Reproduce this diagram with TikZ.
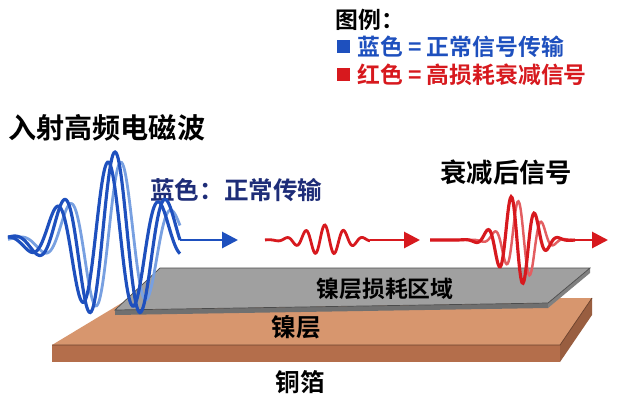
\documentclass[tikz,border=0pt]{standalone}
\usepackage{fontspec}
\newfontfamily\cjk{Noto Sans CJK SC}[BoldFont={Noto Sans CJK SC Bold}]
\usetikzlibrary{arrows.meta}
\definecolor{wblue}{RGB}{30,80,190}
\definecolor{lblue}{RGB}{120,160,225}
\definecolor{wred}{RGB}{215,25,30}
\definecolor{navy}{RGB}{30,45,120}
\definecolor{cutop}{RGB}{215,150,110}
\definecolor{cufront}{RGB}{180,110,75}
\definecolor{nitop}{RGB}{160,160,160}
\tikzset{lbl/.style={font=\cjk\bfseries, inner sep=0pt},
 warr/.style={line width=1.6pt,-{Triangle[length=9pt,width=9pt]}}}
\begin{document}
\begin{tikzpicture}[x=0.02cm,y=-0.02cm]
\useasboundingbox (0,0) rectangle (618,409);
\fill[white] (0,0) rectangle (618,409);
% copper
\fill[cutop] (52,345) -- (560,345) -- (592,298) -- (130,298) -- cycle;
\fill[cufront] (52,345) rectangle (560,362);
\fill[cufront!85!black] (560,345) -- (592,298) -- (592,315) -- (560,362) -- cycle;
\draw[cufront!60!black,thin] (52,345) -- (560,345) -- (592,298);
% nickel
\fill[nitop!70!black] (115,310) -- (548,303) -- (548,308) -- (115,315) -- cycle;
\fill[nitop!80!black] (548,303) -- (590,268) -- (590,273) -- (548,308) -- cycle;
\fill[nitop] (115,310) -- (548,303) -- (590,268) -- (160,268) -- cycle;
\draw[gray!60!black,thin] (115,310) -- (548,303) -- (590,268) -- (160,268) -- cycle;
\node[lbl,font=\cjk\bfseries\fontsize{13}{15}\selectfont] (nilossl) at (385,289) {镍层损耗区域};
\node[lbl,font=\cjk\bfseries\fontsize{14}{16}\selectfont] (nil) at (296,327) {镍层};
\node[lbl,font=\cjk\bfseries\fontsize{14}{16}\selectfont] (cul) at (300,382) {铜箔};
% legend
\node[lbl,anchor=west,font=\cjk\bfseries\fontsize{13}{15}\selectfont] (leg) at (335,20) {图例：};
\fill[wblue] (337,40) rectangle (350,53);
\node[lbl,anchor=west,text=wblue,font=\cjk\bfseries\fontsize{13}{15}\selectfont] (legb) at (357,47) {蓝色 = 正常信号传输};
\fill[wred] (337,68) rectangle (350,81);
\node[lbl,anchor=west,text=wred,font=\cjk\bfseries\fontsize{13}{15}\selectfont] (legr) at (357,75) {红色 = 高损耗衰减信号};
% labels
\node[lbl,anchor=west,font=\cjk\bfseries\fontsize{16}{18}\selectfont] (inc) at (8,128) {入射高频电磁波};
\node[lbl,anchor=west,text=navy,font=\cjk\bfseries\fontsize{14}{16}\selectfont] (norm) at (150,190) {蓝色：正常传输};
\node[lbl,anchor=west,font=\cjk\bfseries\fontsize{15}{17}\selectfont] (att) at (440,172) {衰减后信号};
% blue waves
\draw[lblue,line width=1.6pt,smooth,samples=160] plot[domain=8:180] (\x,{240-78*exp(-((\x-118)/55)^2)*sin((\x-108)/52*360)});
\draw[wblue,line width=1.8pt,smooth,samples=160] plot[domain=8:180] (\x,{240-88*exp(-((\x-115)/58)^2)*sin((\x-102)/52*360)});
\draw[wblue,line width=1.8pt,smooth,samples=160] plot[domain=8:180] (\x,{240-78*exp(-((\x-110)/58)^2)*sin((\x-95)/52*360)});
\coordinate (b0) at (180,240); \coordinate (b1) at (238,240);
\draw[warr,wblue] (b0) -- (b1);
% red wave 1
\draw[wred,line width=1.6pt,smooth,samples=120] plot[domain=265:370] (\x,{240-15*exp(-((\x-325)/28)^2)*sin((\x-320)/19*360)});
\coordinate (r0) at (370,240); \coordinate (r1) at (420,240);
\draw[warr,wred] (r0) -- (r1);
% red wave 2
\draw[wred!70,line width=1.4pt,smooth,samples=160] plot[domain=430:575] (\x,{240-40*exp(-((\x-522)/22)^2)*sin((\x-512)/24*360)});
\draw[wred,line width=1.8pt,smooth,samples=160] plot[domain=430:575] (\x,{240-46*exp(-((\x-517)/24)^2)*sin((\x-505)/24*360)});
\coordinate (s0) at (575,240); \coordinate (s1) at (608,240);
\draw[warr,wred] (s0) -- (s1);
\end{tikzpicture}
\end{document}
